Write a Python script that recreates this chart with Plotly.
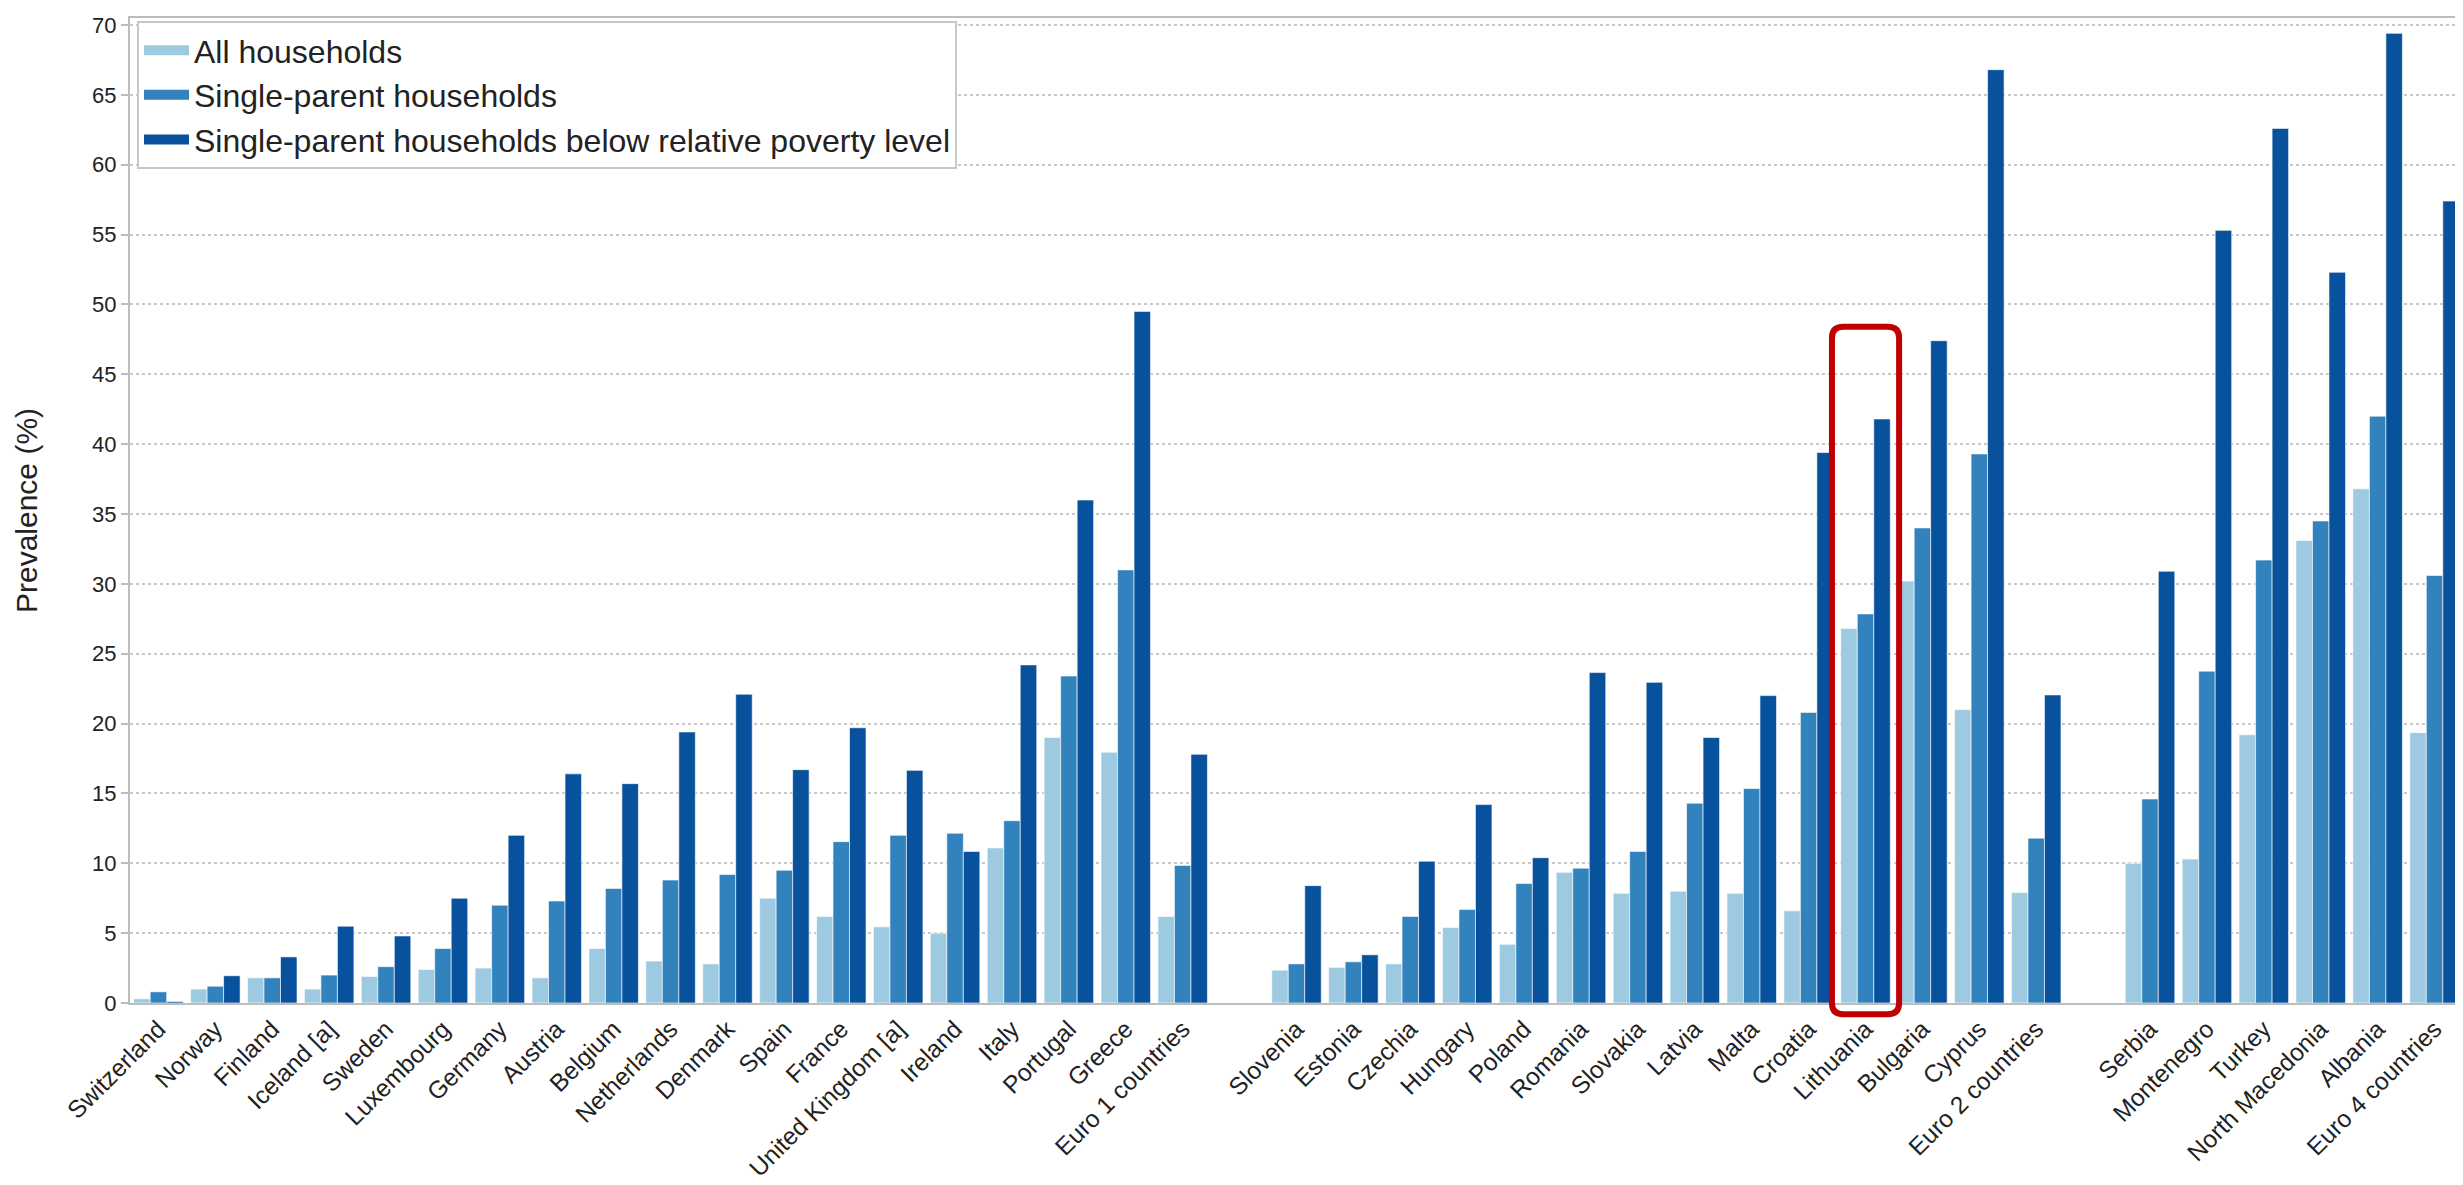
import plotly.graph_objects as go

# ---- data ----
euro1 = ["Switzerland", "Norway", "Finland", "Iceland [a]", "Sweden", "Luxembourg", "Germany",
         "Austria", "Belgium", "Netherlands", "Denmark", "Spain", "France", "United Kingdom [a]",
         "Ireland", "Italy", "Portugal", "Greece", "Euro 1 countries"]
euro2 = ["Slovenia", "Estonia", "Czechia", "Hungary", "Poland", "Romania", "Slovakia", "Latvia",
         "Malta", "Croatia", "Lithuania", "Bulgaria", "Cyprus", "Euro 2 countries"]
euro4 = ["Serbia", "Montenegro", "Turkey", "North Macedonia", "Albania", "Euro 4 countries"]

all_hh_1 = [0.3, 1.0, 1.8, 1.0, 1.9, 2.4, 2.5, 1.8, 3.9, 3.0, 2.8, 7.5, 6.2, 5.45, 5.0, 11.1, 19.0, 17.95, 6.2]
single_1 = [0.8, 1.2, 1.8, 2.0, 2.6, 3.9, 7.0, 7.3, 8.2, 8.8, 9.2, 9.5, 11.55, 12.0, 12.15, 13.05, 23.4, 31.0, 9.85]
poor_1 = [0.1, 1.95, 3.3, 5.5, 4.8, 7.5, 12.0, 16.4, 15.7, 19.4, 22.1, 16.7, 19.7, 16.65, 10.85, 24.2, 36.0, 49.5, 17.8]

all_hh_2 = [2.35, 2.55, 2.8, 5.4, 4.2, 9.35, 7.85, 8.0, 7.85, 6.6, 26.8, 30.2, 21.0, 7.9]
single_2 = [2.8, 2.95, 6.2, 6.7, 8.55, 9.65, 10.85, 14.3, 15.35, 20.8, 27.85, 34.0, 39.3, 11.8]
poor_2 = [8.4, 3.45, 10.15, 14.2, 10.4, 23.65, 22.95, 19.0, 22.0, 39.4, 41.8, 47.4, 66.8, 22.05]

all_hh_4 = [10.0, 10.3, 19.2, 33.1, 36.8, 19.35]
single_4 = [14.6, 23.75, 31.7, 34.5, 42.0, 30.6]
poor_4 = [30.9, 55.3, 62.6, 52.3, 69.4, 57.4]

series_names = ["All households", "Single-parent households",
                "Single-parent households below relative poverty level"]
colors = ["#9ecae1", "#3182bd", "#08519c"]
highlight = "Lithuania"
y_ticks = list(range(0, 71, 5))
Y_MAX = 70.5

# ---- build ----
gap1, gap2 = " ", "  "
categories = euro1 + [gap1] + euro2 + [gap2] + euro4
series = [
    all_hh_1 + [None] + all_hh_2 + [None] + all_hh_4,
    single_1 + [None] + single_2 + [None] + single_4,
    poor_1 + [None] + poor_2 + [None] + poor_4,
]

FONT = "Liberation Sans, Arial, sans-serif"
TXT = "#222222"

fig = go.Figure()
for name, vals, col in zip(series_names, series, colors):
    fig.add_trace(go.Bar(
        x=categories, y=vals, name=name, showlegend=False,
        marker=dict(color=col, line=dict(color="rgba(255,255,255,0.6)", width=1)),
    ))
# legend entries drawn as wide colour blocks
for name, col in zip(series_names, colors):
    fig.add_trace(go.Scatter(
        x=[None], y=[None], mode="lines", name=name,
        line=dict(color=col, width=21), hoverinfo="skip",
    ))

# highlight box around Lithuania (x in category units, y in paper units so it may extend below the axis)
idx = categories.index(highlight)
top_val = max(s[idx] for s in series) + 6.6
x0, x1 = idx - 0.59, idx + 0.59
y0, y1 = -0.8 / Y_MAX, top_val / Y_MAX
rx, ry = 0.2, 0.8 / Y_MAX
path = (f"M {x0+rx},{y0} L {x1-rx},{y0} Q {x1},{y0} {x1},{y0+ry} "
        f"L {x1},{y1-ry} Q {x1},{y1} {x1-rx},{y1} L {x0+rx},{y1} Q {x0},{y1} {x0},{y1-ry} "
        f"L {x0},{y0+ry} Q {x0},{y0} {x0+rx},{y0} Z")
fig.add_shape(type="path", path=path, xref="x", yref="paper",
              line=dict(color="#c00000", width=6), layer="above")

fig.update_layout(
    width=2463, height=1185,
    margin=dict(l=122, r=8, t=10, b=190),
    paper_bgcolor="white", plot_bgcolor="white",
    barmode="group", bargap=0.13, bargroupgap=0,
    font=dict(family=FONT, color=TXT),
    legend=dict(x=0.003, y=0.997, xanchor="left", yanchor="top",
                bgcolor="white", bordercolor="#c8c8c8", borderwidth=2,
                font=dict(size=32, family=FONT, color=TXT),
                itemwidth=45, tracegroupgap=0),
    showlegend=True,
)
fig.update_xaxes(
    type="category", categoryorder="array", categoryarray=categories,
    tickangle=-45, tickfont=dict(size=24.5, family=FONT, color=TXT),
    showgrid=False, showline=True, linecolor="#bdbdbd", linewidth=2, mirror=True,
    ticks="", automargin=False,
)
fig.update_yaxes(
    range=[0, Y_MAX], tickvals=y_ticks,
    tickfont=dict(size=22, family=FONT, color=TXT),
    showgrid=True, gridcolor="#c8c8c8", griddash="dot", gridwidth=2,
    showline=True, linecolor="#bdbdbd", linewidth=2, mirror=True,
    ticks="outside", ticklen=7, tickcolor="#bdbdbd", tickwidth=2,
    zeroline=False,
    title=dict(text="Prevalence (%)", font=dict(size=30, family=FONT, color=TXT), standoff=46),
    automargin=False,
)

fig.write_html("out.html")
